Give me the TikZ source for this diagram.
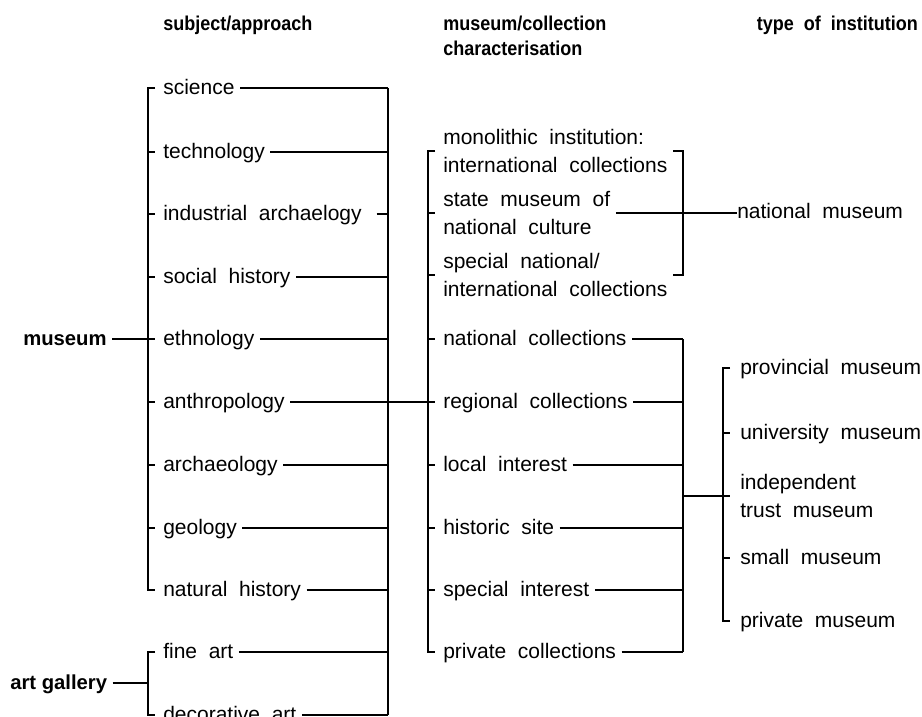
\documentclass[tikz,border=0pt]{standalone}
\usepackage{graphicx}
\usepackage{fontspec}
\setmainfont{Liberation Sans}[WordSpace=2]
\newfontfamily\hfont{Liberation Sans}
\newcommand\hdtxt[1]{\scalebox{0.9}[1]{#1}}
\begin{document}
\begin{tikzpicture}[x=0.75pt,y=-0.75pt,
  ln/.style={line width=1.6pt},
  rl/.style={ln, shorten <=4pt},
  lbl/.style={anchor=west, inner sep=0pt, font=\fontsize{15.75pt}{19pt}\selectfont, text height=11pt, text depth=2pt},
  lbltwo/.style={anchor=west, inner sep=0pt, align=left, font=\fontsize{15.75pt}{21pt}\selectfont},
  hdr/.style={anchor=west, inner sep=0pt, font=\bfseries\fontsize{15pt}{18pt}\selectfont, text height=11pt, text depth=3pt},
  rootlbl/.style={anchor=west, inner sep=0pt, font=\hfont\bfseries\fontsize{15.2pt}{18pt}\selectfont, text height=11pt, text depth=2pt}]
\useasboundingbox (0,0) rectangle (922,717);

% headers
\node[hdr] (h1) at (163,25) {\hdtxt{subject/approach}};
\node[hdr] (h2a) at (443,25) {\hdtxt{museum/collection}};
\node[hdr] (h2b) at (443,50) {\hdtxt{characterisation}};
\node[hdr, anchor=east] (h3) at (918,25) {\hdtxt{type of institution}};

% roots
\node[rootlbl] (mus) at (23,339) {museum};
\node[rootlbl] (ag) at (10,683) {art gallery};

% column 1
\node[lbl] (sci)  at (163,88)  {science};
\node[lbl] (tech) at (163,152) {technology};
\node[lbl] (ind)  at (163,214) {industrial archaelogy};
\node[lbl] (soc)  at (163,277) {social history};
\node[lbl] (eth)  at (163,339) {ethnology};
\node[lbl] (anth) at (163,402) {anthropology};
\node[lbl] (arch) at (163,465) {archaeology};
\node[lbl] (geo)  at (163,528) {geology};
\node[lbl] (nh)   at (163,590) {natural history};
\node[lbl] (fine) at (163,652) {fine art};
\node[lbl] (dec)  at (163,715) {decorative art};

% column 2
\node[lbltwo] (mono)  at (443,151) {monolithic institution:\\international collections};
\node[lbltwo] (state) at (443,213) {state museum of\\national culture};
\node[lbltwo] (spec)  at (443,275) {special national/\\international collections};
\node[lbl] (ncol) at (443,339) {national collections};
\node[lbl] (reg)  at (443,402) {regional collections};
\node[lbl] (loc)  at (443,465) {local interest};
\node[lbl] (hist) at (443,528) {historic site};
\node[lbl] (sint) at (443,590) {special interest};
\node[lbl] (pcol) at (443,652) {private collections};

\node[lbl] (natm) at (737,213) {national museum};

% column 3
\node[lbl] (prov)  at (740,368) {provincial museum};
\node[lbl] (univ)  at (740,433) {university museum};
\node[lbltwo] (ind3) at (740,496) {independent\\trust museum};
\node[lbl] (small) at (740,558) {small museum};
\node[lbl] (priv)  at (740,621) {private museum};

% bracket x positions
\coordinate (L1) at (148,0);
\coordinate (R1) at (388,0);
\coordinate (L2) at (428,0);
\coordinate (R2) at (683,0);
\coordinate (L3) at (723,0);

% roots to column 1
\draw[rl] (mus.east) -- (L1 |- mus.east);
\draw[rl] (ag.east) -- (L1 |- ag.east);

% column 1 left brackets
\draw[ln] ([xshift=5.25pt]L1 |- sci.west) -- (L1 |- sci.west) -- (L1 |- nh.west) -- ([xshift=5.25pt]L1 |- nh.west);
\foreach \n in {tech,ind,soc,eth,anth,arch,geo}
  \draw[ln] (L1 |- \n.west) -- ([xshift=5.25pt]L1 |- \n.west);
\draw[ln] ([xshift=5.25pt]L1 |- fine.west) -- (L1 |- fine.west) -- (L1 |- dec.west) -- ([xshift=5.25pt]L1 |- dec.west);

% column 1 right side
\draw[ln] (R1 |- sci.west) -- (R1 |- dec.west);
\foreach \n in {sci,tech,soc,eth,arch,geo,nh,fine,dec}
  \draw[rl] (\n.east) -- (R1 |- \n.east);
\draw[ln, shorten <=11pt] (ind.east) -- (R1 |- ind.east);
\draw[rl] (anth.east) -- (L2 |- anth.east);

% column 2 left bracket
\draw[ln] ([xshift=5.25pt]L2 |- mono.west) -- (L2 |- mono.west) -- (L2 |- pcol.west) -- ([xshift=5.25pt]L2 |- pcol.west);
\foreach \n in {state,spec,ncol,reg,loc,hist,sint}
  \draw[ln] (L2 |- \n.west) -- ([xshift=5.25pt]L2 |- \n.west);

% national group
\draw[ln] ([xshift=-7.5pt]R2 |- mono.west) -- (R2 |- mono.west) -- (R2 |- spec.west) -- ([xshift=-7.5pt]R2 |- spec.west);
\draw[rl] (state.east) -- (natm.west);

% other collections
\draw[ln] (R2 |- ncol.west) -- (R2 |- pcol.west);
\foreach \n in {ncol,reg,loc,hist,sint,pcol}
  \draw[rl] (\n.east) -- (R2 |- \n.east);
\draw[ln] (R2 |- ind3.west) -- (L3 |- ind3.west);

% column 3 bracket
\draw[ln] ([xshift=5.25pt]L3 |- prov.west) -- (L3 |- prov.west) -- (L3 |- priv.west) -- ([xshift=5.25pt]L3 |- priv.west);
\foreach \n in {univ,ind3,small}
  \draw[ln] (L3 |- \n.west) -- ([xshift=5.25pt]L3 |- \n.west);
\end{tikzpicture}
\end{document}
